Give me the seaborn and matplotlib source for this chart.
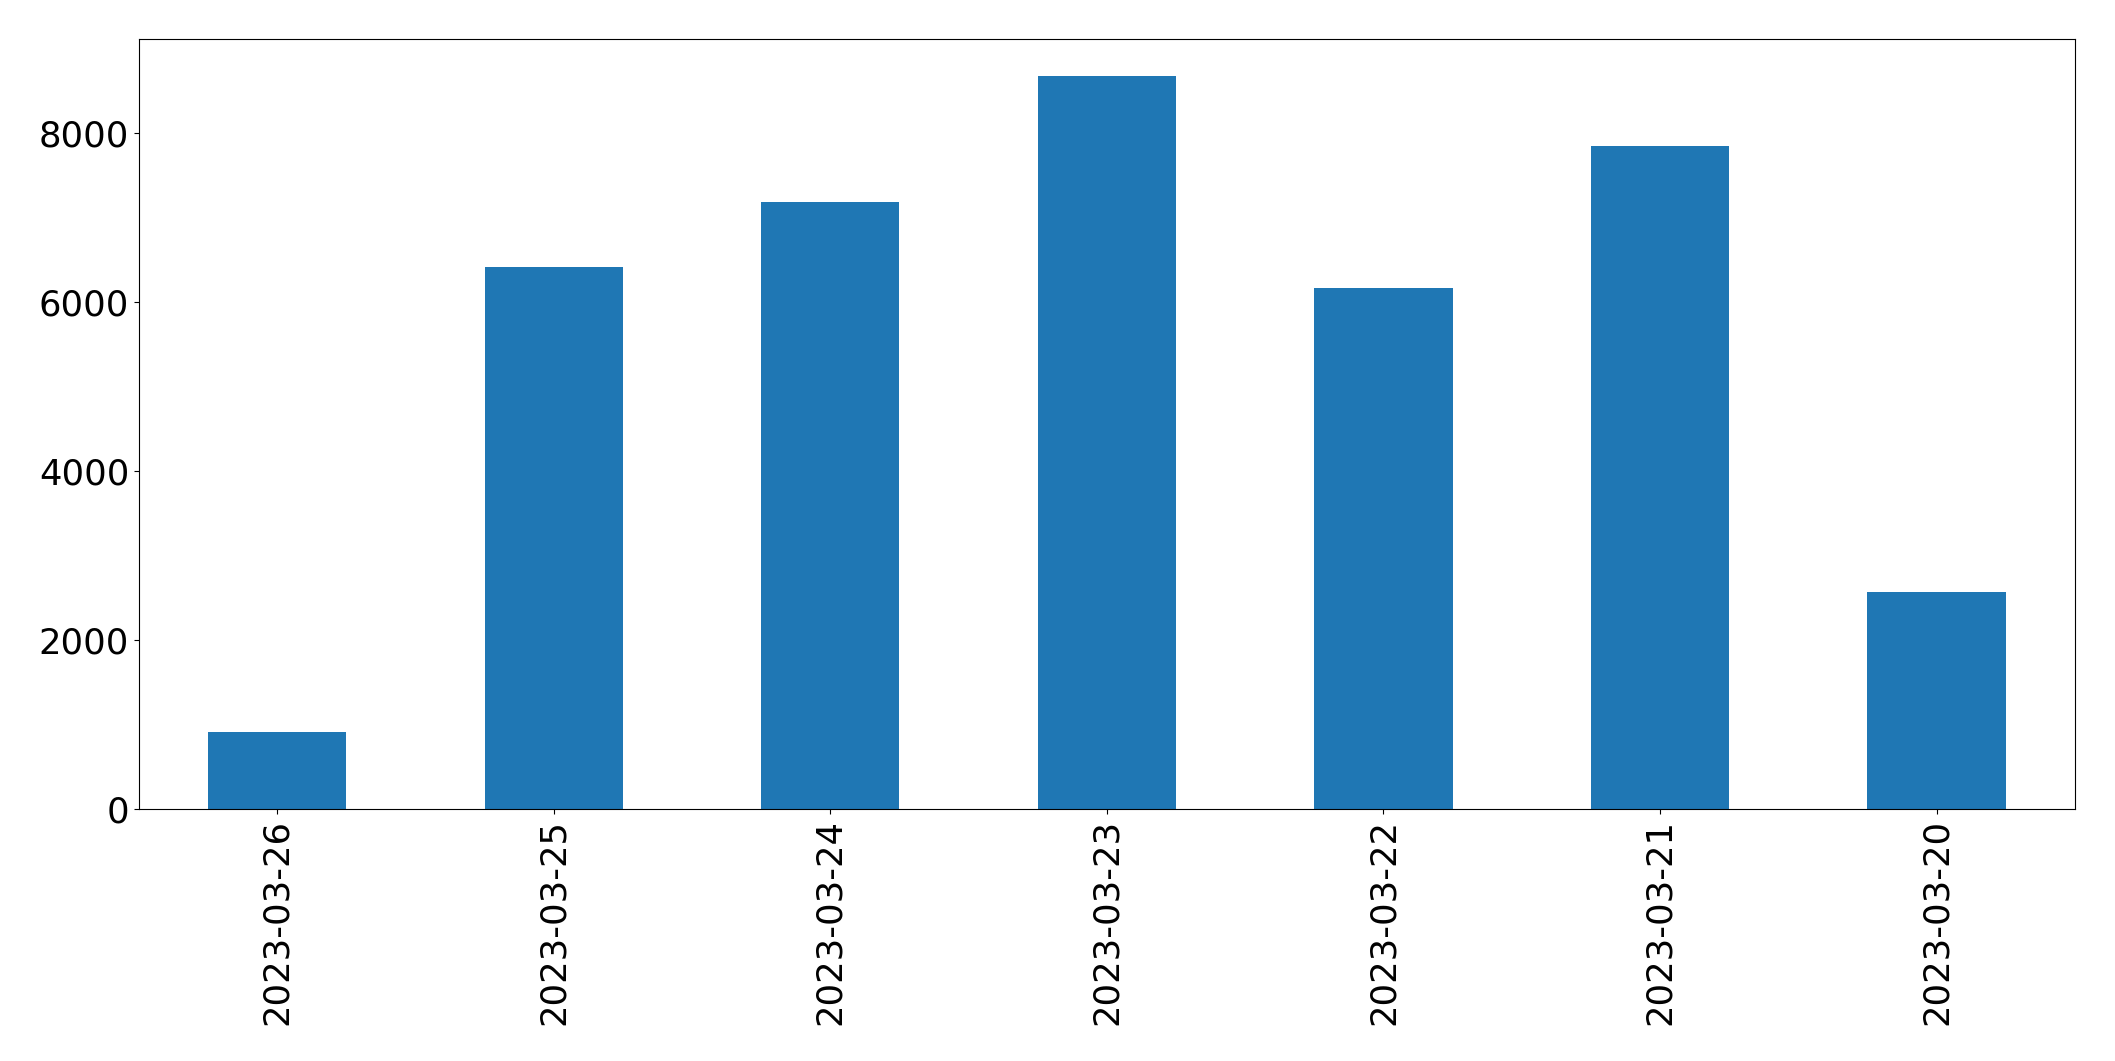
import pandas as pd
import seaborn as sns
import matplotlib.pyplot as plt

# 날짜별 값
dates = ['2023-03-26', '2023-03-25', '2023-03-24', '2023-03-23',
         '2023-03-22', '2023-03-21', '2023-03-20']
counts = [910, 6420, 7190, 8680, 6170, 7850, 2570]

df = pd.DataFrame({'date': dates, 'count': counts})

fig, ax = plt.subplots(figsize=(21.15, 10.61), dpi=100)
fig.subplots_adjust(left=0.0657, right=0.981, top=0.963, bottom=0.2375)

sns.barplot(x='date', y='count', data=df, ax=ax, color='#1f77b4',
            saturation=1, width=0.5, order=dates)

ax.set_xlim(-0.5, len(dates) - 0.5)
ax.set_xlabel('')
ax.set_ylabel('')
ax.set_yticks([0, 2000, 4000, 6000, 8000])
ax.tick_params(axis='both', labelsize=25.5)
plt.setp(ax.get_xticklabels(), rotation=90)

plt.savefig('out.png', dpi=100)
plt.close()
